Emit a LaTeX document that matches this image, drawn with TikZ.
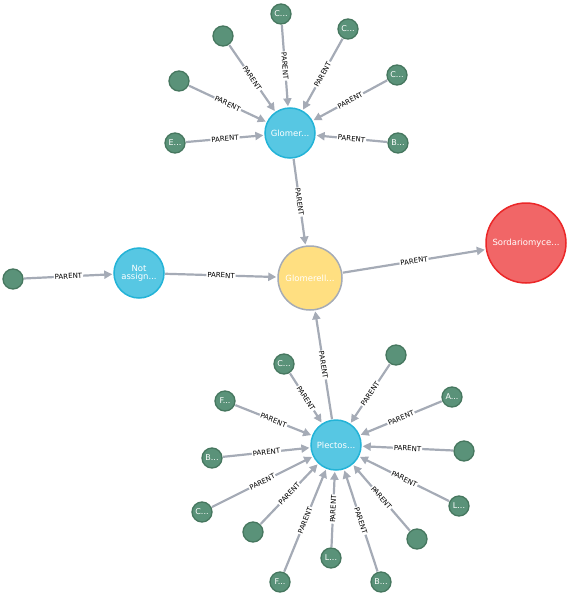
\documentclass[tikz,border=0pt]{standalone}
\usepackage{fontspec}
\setmainfont{DejaVu Sans}
\usetikzlibrary{arrows.meta}
\definecolor{leaffill}{HTML}{5A9279}
\definecolor{leafdraw}{HTML}{46775F}
\definecolor{bluefill}{HTML}{57C7E3}
\definecolor{bluedraw}{HTML}{23B3D7}
\definecolor{yelfill}{HTML}{FFDF81}
\definecolor{edgecol}{HTML}{A5ABB6}
\definecolor{redfill}{HTML}{F16667}
\definecolor{reddraw}{HTML}{EB2728}
\tikzset{
  leaf/.style={circle, minimum size=20pt, inner sep=0pt, fill=leaffill, draw=leafdraw, line width=1.3pt, text=white, font=\fontsize{8}{9}\selectfont},
  bluenode/.style={circle, minimum size=50pt, inner sep=0pt, fill=bluefill, draw=bluedraw, line width=1.5pt, text=white, font=\fontsize{8.5}{9}\selectfont, align=center},
  yelnode/.style={circle, minimum size=64pt, inner sep=0pt, fill=yelfill, draw=edgecol, line width=1.5pt, text=white, font=\fontsize{8.5}{9}\selectfont},
  rednode/.style={circle, minimum size=80pt, inner sep=0pt, fill=redfill, draw=reddraw, line width=1.5pt, text=white, font=\fontsize{8.5}{9}\selectfont},
  rel/.style={draw=edgecol, line width=2.2pt, -{Triangle[length=8pt,width=8pt]}, shorten >=1pt, shorten <=0.5pt},
  lbl/.style={midway, sloped, fill=white, inner sep=1pt, text=black, font=\fontsize{7}{7}\selectfont}
}
\begin{document}
\begin{tikzpicture}[x=1pt,y=-1pt]
\useasboundingbox (0,0) rectangle (570,597);
% main nodes
\node[bluenode] (glomer) at (290,133) {Glomer...};
\node[yelnode] (glomerell) at (310,278) {Glomerell...};
\node[rednode] (sord) at (526,243) {Sordariomyce...};
\node[bluenode] (notas) at (139,273) {Not\\[-1pt]assign...};
\node[bluenode] (plect) at (336,445) {Plectos...};
% top leaves
\node[leaf] (t1) at (281,14) {C...};
\node[leaf] (t2) at (223,36) {};
\node[leaf] (t3) at (348,29) {C...};
\node[leaf] (t4) at (179,81) {};
\node[leaf] (t5) at (397,75) {C...};
\node[leaf] (t6) at (175,143) {E...};
\node[leaf] (t7) at (398,143) {B...};
% left leaf
\node[leaf] (l1) at (13,279) {};
% bottom leaves
\node[leaf] (b1) at (284,364) {C...};
\node[leaf] (b2) at (396,355) {};
\node[leaf] (b3) at (225,401) {F...};
\node[leaf] (b4) at (452,397) {A...};
\node[leaf] (b5) at (212,458) {B...};
\node[leaf] (b6) at (464,451) {};
\node[leaf] (b7) at (202,512) {C...};
\node[leaf] (b8) at (459,506) {L...};
\node[leaf] (b9) at (253,532) {};
\node[leaf] (b10) at (417,539) {};
\node[leaf] (b11) at (331,558) {L...};
\node[leaf] (b12) at (280,582) {F...};
\node[leaf] (b13) at (381,582) {B...};
% edges
\foreach \n in {t1,t2,t3,t4,t5,t6,t7}
  \draw[rel] (\n) -- (glomer) node[lbl] {PARENT};
\foreach \n in {b1,b2,b3,b4,b5,b6,b7,b8,b9,b10,b11,b12,b13}
  \draw[rel] (\n) -- (plect) node[lbl] {PARENT};
\draw[rel] (glomer) -- (glomerell) node[lbl] {PARENT};
\draw[rel] (plect) -- (glomerell) node[lbl] {PARENT};
\draw[rel] (notas) -- (glomerell) node[lbl] {PARENT};
\draw[rel] (l1) -- (notas) node[lbl] {PARENT};
\draw[rel] (glomerell) -- (sord) node[lbl] {PARENT};
\end{tikzpicture}
\end{document}
